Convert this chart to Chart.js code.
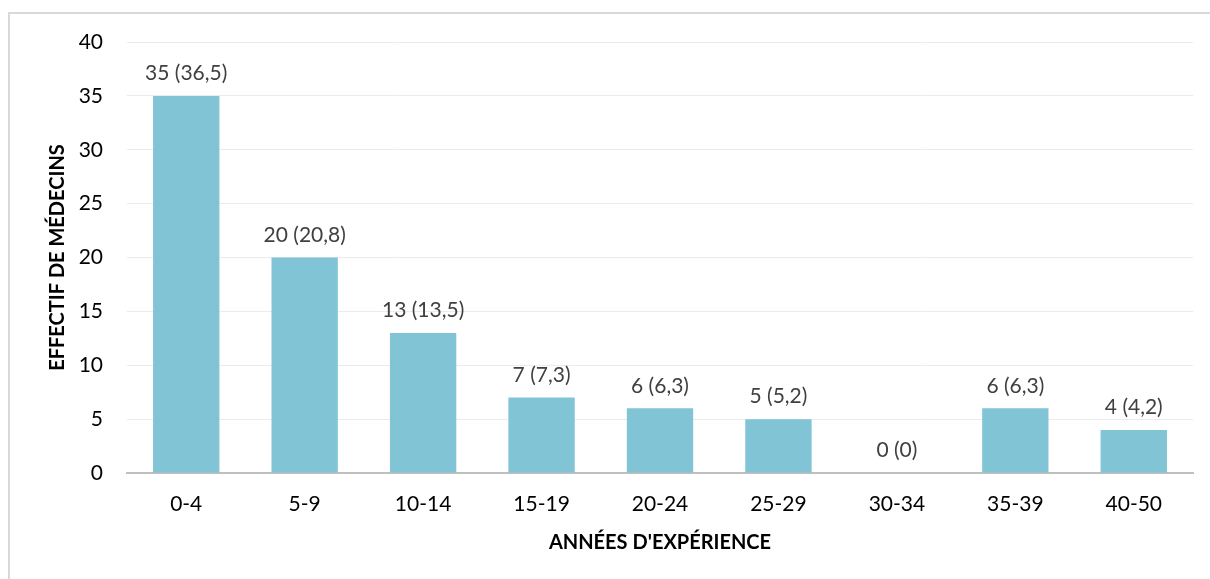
<!DOCTYPE html>
<html>
<head>
<meta charset="utf-8">
<script src="https://cdn.jsdelivr.net/npm/chart.js@4"></script>
<style>
body{margin:0;background:#fff}
</style>
</head>
<body>
<canvas id="myChart" width="1210" height="579"></canvas>
<script>
// données
const categories=['0-4','5-9','10-14','15-19','20-24','25-29','30-34','35-39','40-50']
const effectifs=[35,20,13,7,6,5,0,6,4]
const pourcentages=['36,5','20,8','13,5','7,3','6,3','5,2','0','6,3','4,2']
const yTicks=[0,5,10,15,20,25,30,35,40]

const police="Lato, 'Noto Sans', sans-serif"

// cadre gris autour du graphique
const cadre={
  id:'cadre',
  beforeDraw(chart){
    const c=chart.ctx
    c.save()
    c.strokeStyle='#D9D9D9'
    c.lineWidth=2
    c.strokeRect(9,13,1220,600)
    c.restore()
  }
}

// étiquettes au-dessus des barres
const etiquettes={
  id:'etiquettes',
  afterDatasetsDraw(chart){
    const c=chart.ctx
    const meta=chart.getDatasetMeta(0)
    c.save()
    c.font="21px "+police
    c.fillStyle='#404040'
    c.textAlign='center'
    c.textBaseline='bottom'
    meta.data.forEach((bar,i)=>{
      c.fillText(effectifs[i]+' ('+pourcentages[i]+')',bar.x,bar.y-12)
    })
    c.restore()
  }
}

const ctx=document.getElementById('myChart').getContext('2d')
new Chart(ctx,{
  type:'bar',
  data:{
    labels:categories,
    datasets:[{
      data:effectifs,
      backgroundColor:'rgb(129,196,213)',
      borderWidth:0,
      categoryPercentage:1,
      barPercentage:0.56
    }]
  },
  options:{
    responsive:false,
    animation:false,
    layout:{padding:{left:36,top:42,right:17,bottom:20}},
    plugins:{legend:{display:false},tooltip:{enabled:false}},
    scales:{
      x:{
        afterFit:s=>{s.height=86},
        grid:{display:false,drawTicks:false},
        border:{color:'#BFBFBF',width:2},
        ticks:{padding:19,color:'#000',font:{family:police,size:21}},
        title:{display:true,text:"ANNÉES D'EXPÉRIENCE",color:'#000',padding:{bottom:4},font:{family:police,size:20,weight:'bold'}}
      },
      y:{
        min:0,max:40,
        afterFit:s=>{s.width=91},
        afterBuildTicks:s=>{s.ticks=yTicks.map(v=>({value:v}))},
        grid:{color:'#EBEBEB',drawTicks:false},
        border:{display:false},
        ticks:{padding:24,color:'#000',font:{family:police,size:21}},
        title:{display:true,text:'EFFECTIF DE MÉDECINS',color:'#000',padding:{top:10},font:{family:police,size:20,weight:'bold'}}
      }
    }
  },
  plugins:[cadre,etiquettes]
})
</script>
</body>
</html>
